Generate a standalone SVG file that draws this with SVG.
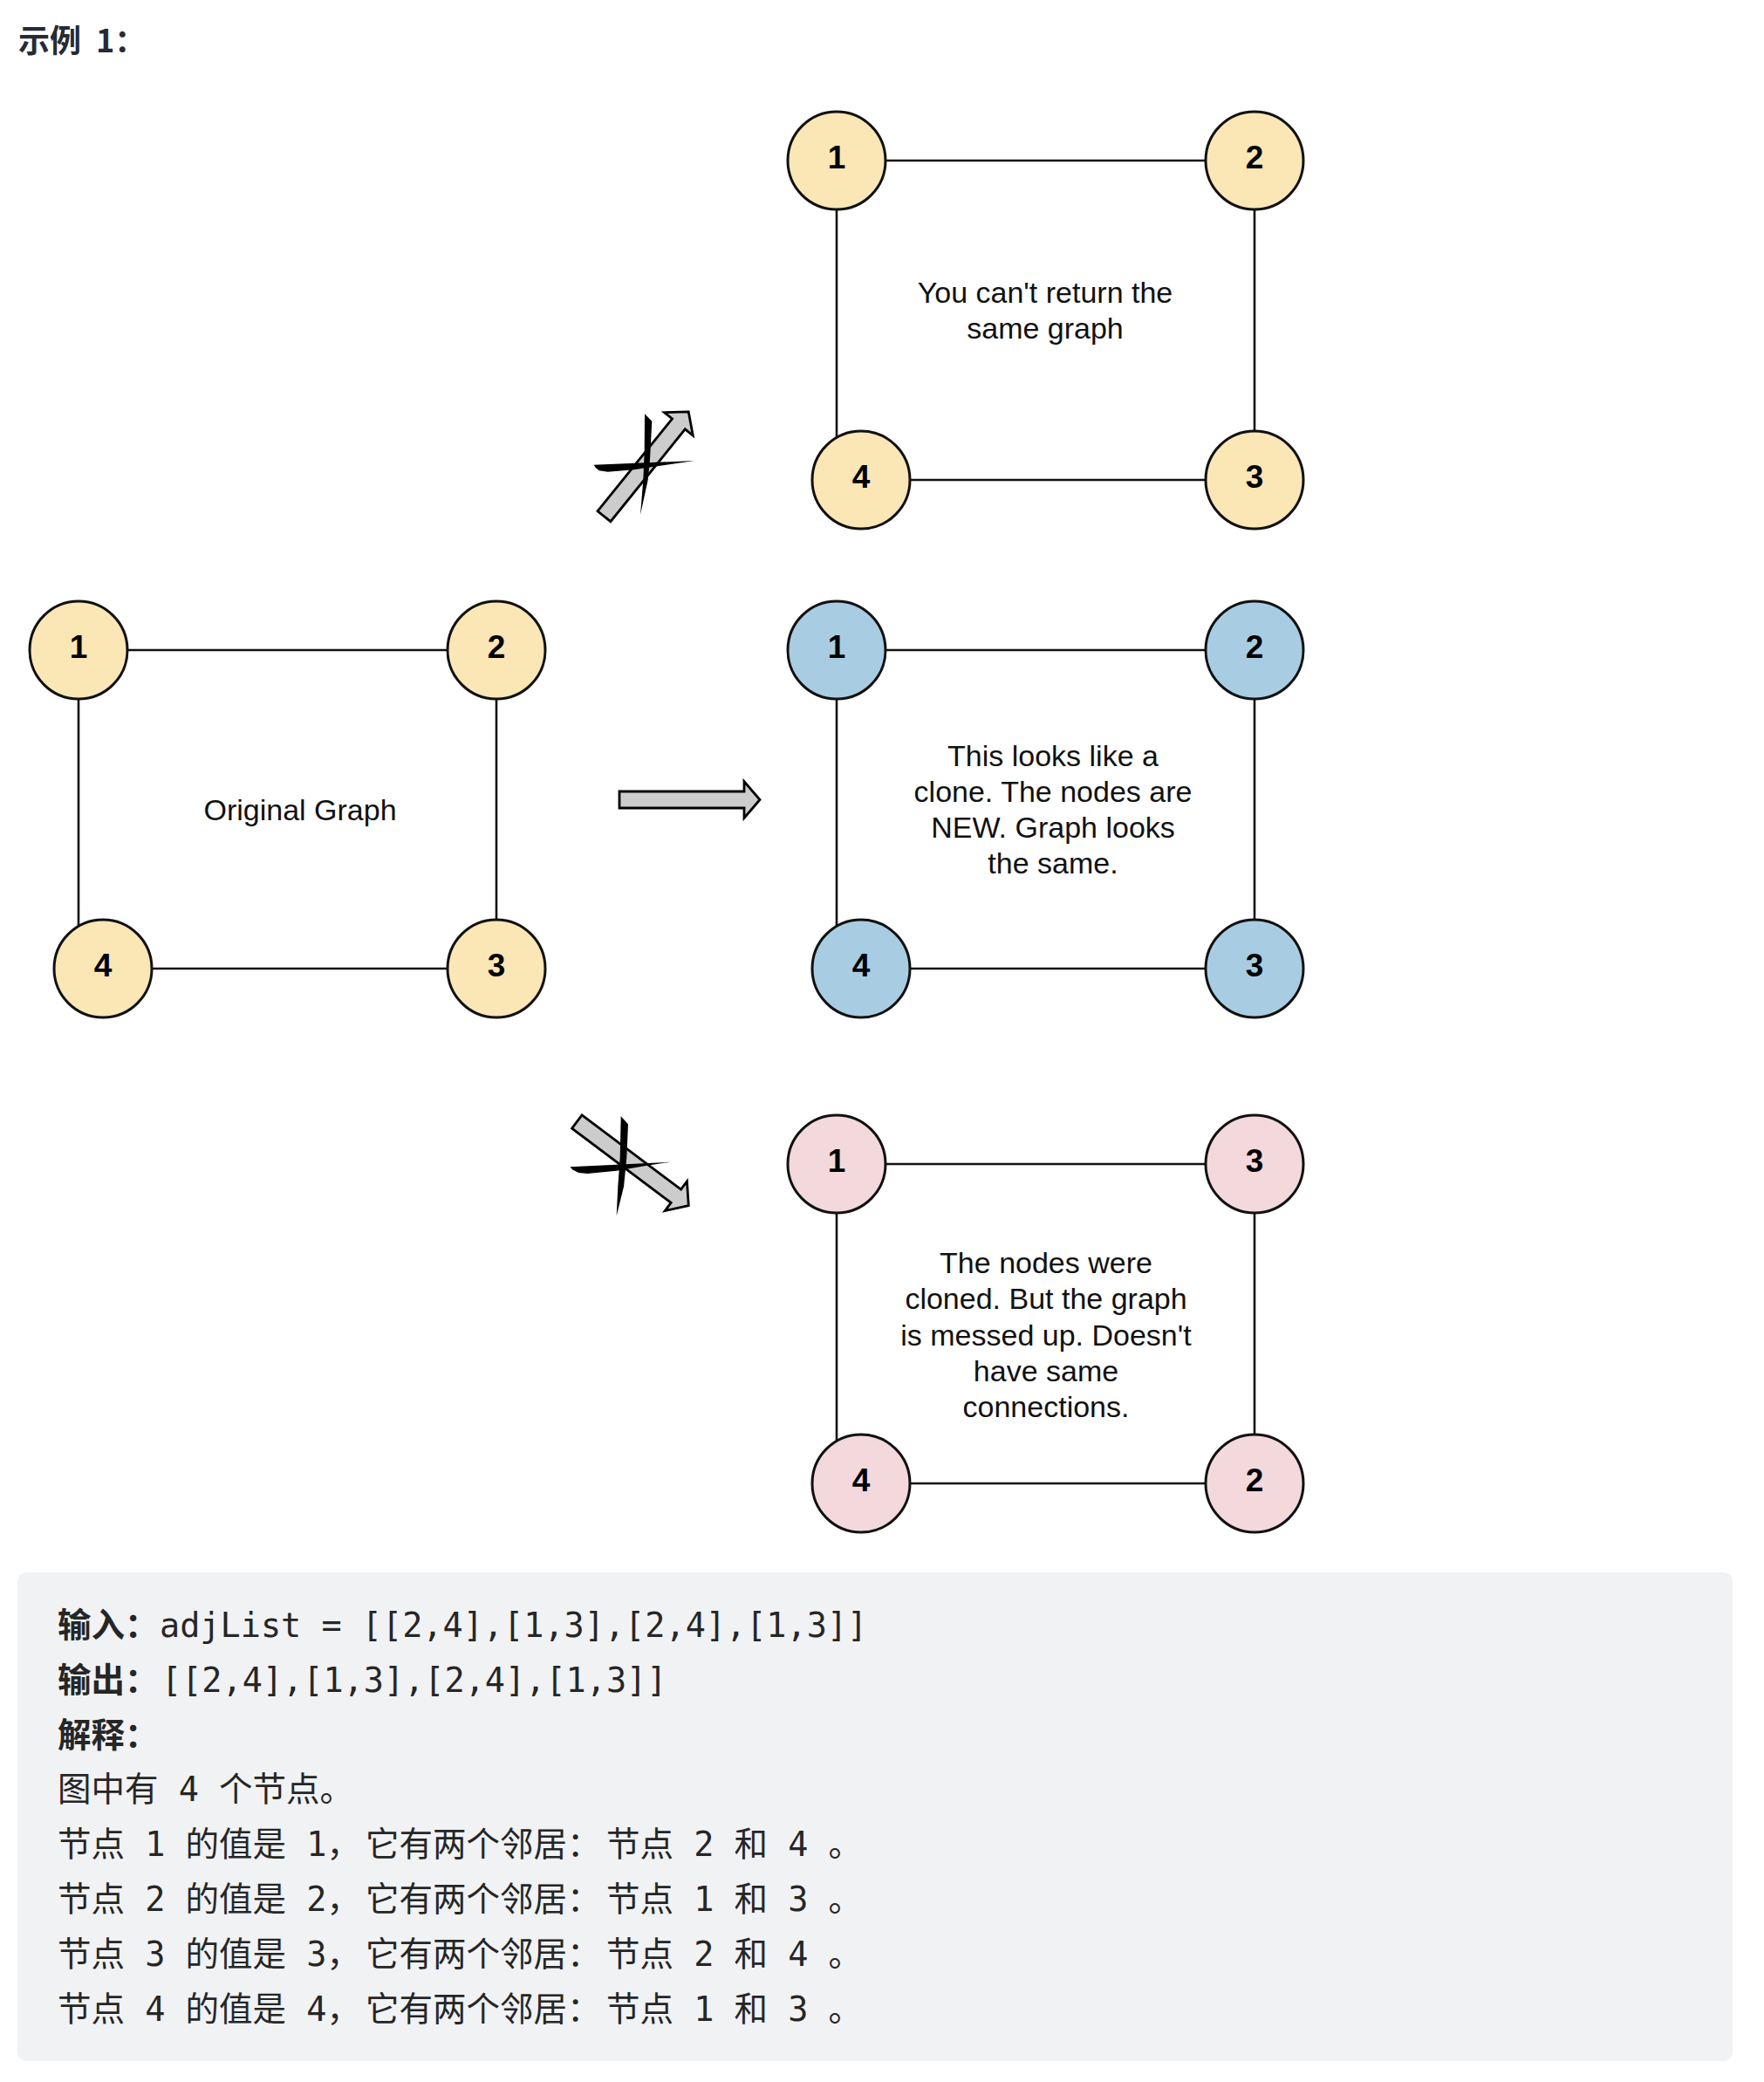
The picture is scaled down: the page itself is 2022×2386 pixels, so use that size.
<svg xmlns="http://www.w3.org/2000/svg" width="2022" height="2386" viewBox="0 0 2022 2386">
<style>
.edge{stroke:#111;stroke-width:2.6;fill:none}
.n circle{stroke:#111;stroke-width:3}
.y circle{fill:#fbe6b6}
.b circle{fill:#a8cde3}
.p circle{fill:#f3d8dc}
.lbl{font-family:"Liberation Sans",Arial,sans-serif;font-weight:bold;font-size:37px;fill:#000;text-anchor:middle}
.cap{font-family:"Liberation Sans",Arial,sans-serif;font-size:34px;fill:#111;text-anchor:middle}
.arr{fill:#cccccc;stroke:#000;stroke-width:2.8;stroke-linejoin:miter}
.ink{fill:#000}
.code{font-family:"DejaVu Sans Mono","Noto Sans CJK SC",monospace;font-size:38.5px;fill:#262626}
.bold{font-weight:bold}
</style>
<defs>
<polygon id="arrowShape" points="0,-9.5 -18,-9.5 -18,-21 0,0 -18,21 -18,9.5"/>
</defs>
<rect width="2022" height="2386" fill="#ffffff"/>

<text x="21" y="60" font-family="'Noto Sans CJK SC',sans-serif" font-weight="bold" font-size="36" fill="#262b33">示例<tspan x="110">1：</tspan></text>

<g id="connectors">
  <!-- top graph -->
  <line class="edge" x1="959" y1="184" x2="1438" y2="184"/>
  <line class="edge" x1="1438" y1="184" x2="1438" y2="550"/>
  <line class="edge" x1="959" y1="184" x2="959" y2="550"/>
  <line class="edge" x1="987" y1="550" x2="1438" y2="550"/>
  <!-- left graph -->
  <line class="edge" x1="90" y1="745" x2="569" y2="745"/>
  <line class="edge" x1="569" y1="745" x2="569" y2="1110"/>
  <line class="edge" x1="90" y1="745" x2="90" y2="1110"/>
  <line class="edge" x1="118" y1="1110" x2="569" y2="1110"/>
  <!-- middle graph -->
  <line class="edge" x1="959" y1="745" x2="1438" y2="745"/>
  <line class="edge" x1="1438" y1="745" x2="1438" y2="1110"/>
  <line class="edge" x1="959" y1="745" x2="959" y2="1110"/>
  <line class="edge" x1="987" y1="1110" x2="1438" y2="1110"/>
  <!-- bottom graph -->
  <line class="edge" x1="959" y1="1334" x2="1438" y2="1334"/>
  <line class="edge" x1="1438" y1="1334" x2="1438" y2="1700"/>
  <line class="edge" x1="959" y1="1334" x2="959" y2="1700"/>
  <line class="edge" x1="987" y1="1700" x2="1438" y2="1700"/>
  <!-- block arrows -->
  <polygon class="arr" points="710,907 853,907 853,895.5 871,916.5 853,937.5 853,926 710,926"/>
  <polygon class="arr" transform="translate(692.5,591.7) rotate(-51.1)" points="0,-9.5 136,-9.5 136,-21 154,0 136,21 136,9.5 0,9.5"/>
  <polygon class="arr" transform="translate(661.3,1285.5) rotate(36.9)" points="0,-9.5 142,-9.5 142,-21 160,0 142,21 142,9.5 0,9.5"/>
  <!-- crosses -->
  <path class="ink" d="M739,474.3 L747.3,482.7 L745,526.7 L742.7,550 L734,590 L737.3,550 L738.7,516.7 Z"/>
  <path class="ink" d="M680.7,532.7 L796,528 L760,533.3 L726.7,538.3 L696.7,540.7 L686.7,539.3 L682.7,536 Z"/>
  <path class="ink" d="M711.7,1279.3 L720,1288.3 L718.3,1326.7 L715,1360 L706.7,1393.3 L708.3,1360 L710.7,1326.7 Z"/>
  <path class="ink" d="M653.3,1337.3 L768.3,1331.7 L740,1336 L706.7,1341.7 L673.3,1345 L663.3,1344 L656.7,1340.7 Z"/>
</g>

<!-- top graph nodes -->
<g id="top-1" class="n y"><circle cx="959" cy="184" r="56"/><text class="lbl" x="959" y="192.5">1</text></g>
<g id="top-2" class="n y"><circle cx="1438" cy="184" r="56"/><text class="lbl" x="1438" y="192.5">2</text></g>
<g id="top-4" class="n y"><circle cx="987" cy="550" r="56"/><text class="lbl" x="987" y="558.5">4</text></g>
<g id="top-3" class="n y"><circle cx="1438" cy="550" r="56"/><text class="lbl" x="1438" y="558.5">3</text></g>
<g id="top-caption"><text class="cap" x="1198" y="347">You can't return the</text><text class="cap" x="1198" y="388">same graph</text></g>

<!-- left (original) graph nodes -->
<g id="orig-1" class="n y"><circle cx="90" cy="745" r="56"/><text class="lbl" x="90" y="753.5">1</text></g>
<g id="orig-2" class="n y"><circle cx="569" cy="745" r="56"/><text class="lbl" x="569" y="753.5">2</text></g>
<g id="orig-4" class="n y"><circle cx="118" cy="1110" r="56"/><text class="lbl" x="118" y="1118.5">4</text></g>
<g id="orig-3" class="n y"><circle cx="569" cy="1110" r="56"/><text class="lbl" x="569" y="1118.5">3</text></g>
<g id="orig-caption"><text class="cap" x="344" y="940">Original Graph</text></g>

<!-- middle (clone) graph nodes -->
<g id="clone-1" class="n b"><circle cx="959" cy="745" r="56"/><text class="lbl" x="959" y="753.5">1</text></g>
<g id="clone-2" class="n b"><circle cx="1438" cy="745" r="56"/><text class="lbl" x="1438" y="753.5">2</text></g>
<g id="clone-4" class="n b"><circle cx="987" cy="1110" r="56"/><text class="lbl" x="987" y="1118.5">4</text></g>
<g id="clone-3" class="n b"><circle cx="1438" cy="1110" r="56"/><text class="lbl" x="1438" y="1118.5">3</text></g>
<g id="clone-caption">
<text class="cap" x="1207" y="877.5">This looks like a</text>
<text class="cap" x="1207" y="918.5">clone. The nodes are</text>
<text class="cap" x="1207" y="959.5">NEW. Graph looks</text>
<text class="cap" x="1207" y="1000.5">the same.</text>
</g>

<!-- bottom (wrong) graph nodes -->
<g id="wrong-1" class="n p"><circle cx="959" cy="1334" r="56"/><text class="lbl" x="959" y="1342.5">1</text></g>
<g id="wrong-3" class="n p"><circle cx="1438" cy="1334" r="56"/><text class="lbl" x="1438" y="1342.5">3</text></g>
<g id="wrong-4" class="n p"><circle cx="987" cy="1700" r="56"/><text class="lbl" x="987" y="1708.5">4</text></g>
<g id="wrong-2" class="n p"><circle cx="1438" cy="1700" r="56"/><text class="lbl" x="1438" y="1708.5">2</text></g>
<g id="wrong-caption">
<text class="cap" x="1199" y="1459">The nodes were</text>
<text class="cap" x="1199" y="1500.3">cloned. But the graph</text>
<text class="cap" x="1199" y="1541.6">is messed up. Doesn't</text>
<text class="cap" x="1199" y="1582.9">have same</text>
<text class="cap" x="1199" y="1624.2">connections.</text>
</g>

<!-- example text box -->
<g id="example-box">
<rect x="20" y="1802" width="1966" height="560" rx="10" fill="#f1f2f4"/>
<text class="code" x="66" y="1876"><tspan class="bold">输入：</tspan><tspan x="183">adjList = [[2,4],[1,3],[2,4],[1,3]]</tspan></text>
<text class="code" x="66" y="1938.8"><tspan class="bold">输出：</tspan><tspan x="185">[[2,4],[1,3],[2,4],[1,3]]</tspan></text>
<text class="code bold" x="66" y="2001.6">解释：</text>
<text class="code" x="66" y="2064.4">图中有 4 个节点。</text>
<text class="code" x="66" y="2127.2">节点 1 的值是 1，<tspan x="419">它有两个邻居：</tspan><tspan x="695">节点 2 和 4 。</tspan></text>
<text class="code" x="66" y="2190">节点 2 的值是 2，<tspan x="419">它有两个邻居：</tspan><tspan x="695">节点 1 和 3 。</tspan></text>
<text class="code" x="66" y="2252.8">节点 3 的值是 3，<tspan x="419">它有两个邻居：</tspan><tspan x="695">节点 2 和 4 。</tspan></text>
<text class="code" x="66" y="2315.6">节点 4 的值是 4，<tspan x="419">它有两个邻居：</tspan><tspan x="695">节点 1 和 3 。</tspan></text>
</g>
</svg>
